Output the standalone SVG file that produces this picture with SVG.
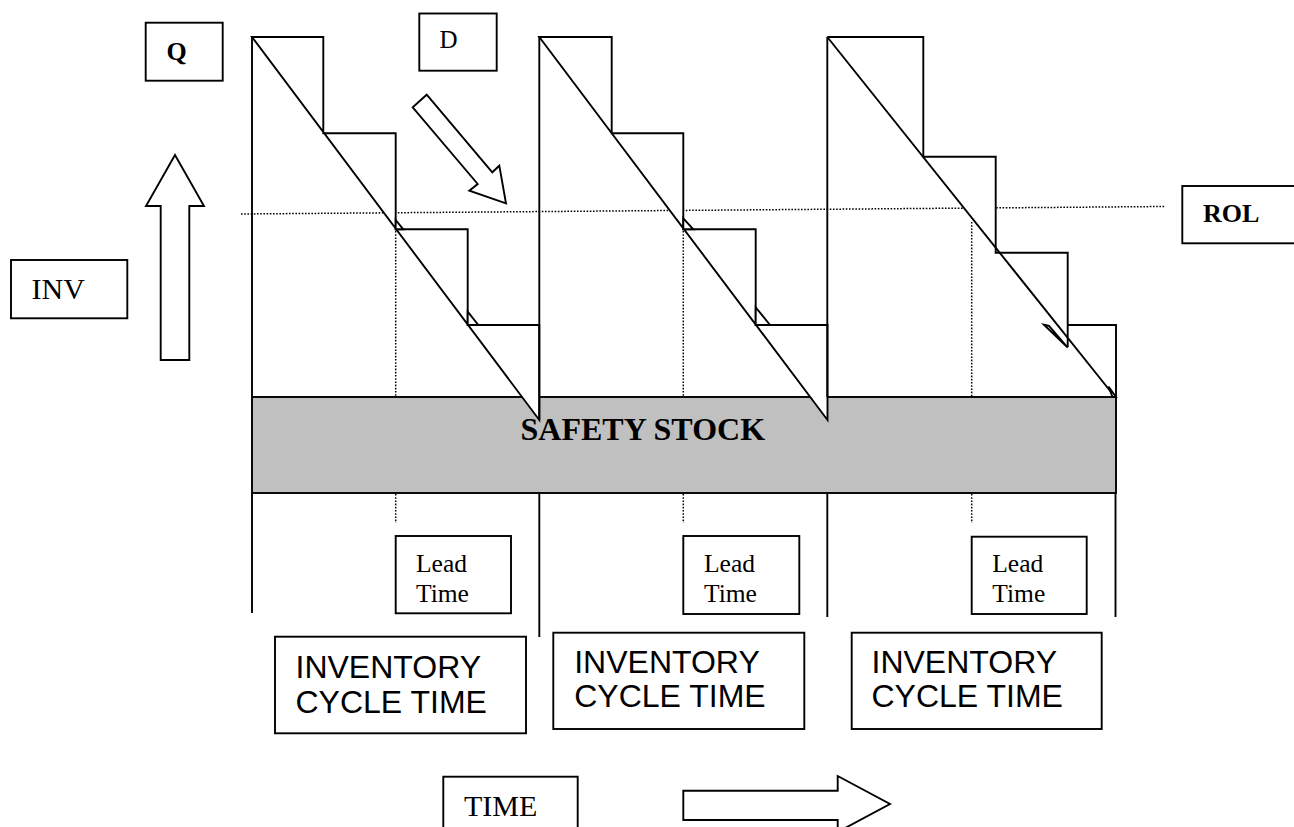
<svg xmlns="http://www.w3.org/2000/svg" width="1294" height="827" viewBox="0 0 1294 827">
<style>
.ln{stroke:#000;stroke-width:1.9;fill:none}
.wf{fill:#fff;stroke:#000;stroke-width:1.9;stroke-linejoin:miter}
.wn{fill:#fff;stroke:none}
.dot{stroke:#000;stroke-width:1.5;stroke-dasharray:1.6 1.6;fill:none}
.box{fill:#fff;stroke:#000;stroke-width:1.9}
.serif{font-family:"Liberation Serif","Times New Roman",serif;fill:#000}
.sans{font-family:"Liberation Sans",Arial,sans-serif;fill:#000}
</style>
<rect width="1294" height="827" fill="#fff"/>

<g id="safety-stock">
<rect x="252" y="397" width="864" height="96" fill="#c0c0c0" stroke="#000" stroke-width="1.9"/>
</g>

<g id="rol-line">
<line class="dot" x1="241" y1="214" x2="1165" y2="206.5"/>
</g>

<g id="cycle1">
<polygon class="wf" points="252,37 323.3,37 323.3,133.3 395.7,133.3 395.7,229.3 467.7,229.3 467.7,325 539.3,325 539.3,420"/>
<line class="ln" x1="252" y1="37" x2="252" y2="397"/>
<polygon class="wf" points="395.7,220 403.3,229.3 395.7,229.3" stroke-width="1.5"/>
<polygon class="wf" points="467.7,311.7 478.3,325 467.7,325" stroke-width="1.5"/>
<line class="dot" x1="395.7" y1="231" x2="395.7" y2="396"/>
<line class="dot" x1="395.7" y1="494" x2="395.7" y2="523"/>
<line class="ln" x1="252" y1="493" x2="252" y2="613"/>
</g>

<g id="cycle2">
<polygon class="wf" points="539.3,37 611.7,37 611.7,133.3 683.3,133.3 683.3,229.3 755.7,229.3 755.7,325 827.5,325 827.5,420"/>
<line class="ln" x1="539.3" y1="37" x2="539.3" y2="420"/>
<polygon class="wf" points="683.3,218.3 693.3,229.3 683.3,229.3" stroke-width="1.5"/>
<polygon class="wf" points="755.7,307.3 770,325 755.7,325" stroke-width="1.5"/>
<line class="dot" x1="683.3" y1="231" x2="683.3" y2="396"/>
<line class="dot" x1="683.3" y1="494" x2="683.3" y2="523"/>
<line class="ln" x1="539.3" y1="493" x2="539.3" y2="637"/>
</g>

<g id="cycle3">
<polygon class="wn" points="827.3,37 923.3,37 923.3,156.7 995.7,156.7 995.7,252.7 1067.7,252.7 1067.7,325 1116,325 1116,397 1115,397"/>
<polyline class="ln" points="827.3,37 923.3,37 923.3,156.7 995.7,156.7 995.7,252.7 1067.7,252.7 1067.7,347"/>
<polyline class="ln" points="1067.7,325 1116,325 1116,397"/>
<line class="ln" x1="827.3" y1="37" x2="1115" y2="397"/>
<line class="ln" x1="827.3" y1="37" x2="827.3" y2="397"/>
<polygon class="wf" points="1044,324.8 1049,325.8 1067.7,347.5" stroke-width="1.2"/>
<polygon class="wf" points="1108.5,386.5 1116,397 1112.5,397" stroke-width="1.2"/>
<line class="dot" x1="971.7" y1="222" x2="971.7" y2="396"/>
<line class="dot" x1="971.7" y1="494" x2="971.7" y2="523"/>
<line class="ln" x1="827.3" y1="493" x2="827.3" y2="617"/>
<line class="ln" x1="1115.5" y1="493" x2="1115.5" y2="617"/>
</g>

<g id="safety-label">
<text class="serif" x="520.5" y="439.5" font-size="32" font-weight="bold">SAFETY STOCK</text>
</g>

<g id="q-box">
<rect class="box" x="145.7" y="22.7" width="77" height="58"/>
<text class="serif" x="166.5" y="59.5" font-size="26" font-weight="bold">Q</text>
</g>

<g id="d-box">
<rect class="box" x="419.3" y="13.5" width="77.4" height="57.2"/>
<text class="serif" x="439.5" y="48.3" font-size="25">D</text>
</g>

<g id="rol-box">
<rect class="box" x="1182.3" y="186" width="130" height="57.3"/>
<text class="serif" x="1203" y="222.2" font-size="26" font-weight="bold">ROL</text>
</g>

<g id="inv-box">
<rect class="box" x="11" y="260" width="116.3" height="58.3"/>
<text class="serif" x="31.5" y="299.3" font-size="30">INV</text>
</g>

<g id="lead1">
<rect class="box" x="395.7" y="536" width="115.3" height="77.3"/>
<text class="serif" x="416" y="571.7" font-size="25.5">Lead</text>
<text class="serif" x="416" y="601.5" font-size="25.5">Time</text>
</g>
<g id="lead2">
<rect class="box" x="683.3" y="536" width="116" height="78"/>
<text class="serif" x="704" y="571.7" font-size="25.5">Lead</text>
<text class="serif" x="704" y="601.5" font-size="25.5">Time</text>
</g>
<g id="lead3">
<rect class="box" x="971.7" y="536.7" width="115" height="77.3"/>
<text class="serif" x="992.3" y="571.7" font-size="25.5">Lead</text>
<text class="serif" x="992.3" y="601.5" font-size="25.5">Time</text>
</g>

<g id="cycle-time1">
<rect class="box" x="275" y="636.7" width="251" height="96.6"/>
<text class="sans" x="295.5" y="678.3" font-size="32">INVENTORY</text>
<text class="sans" x="295.5" y="712.7" font-size="32">CYCLE TIME</text>
</g>
<g id="cycle-time2">
<rect class="box" x="553.3" y="632.7" width="251" height="96.3"/>
<text class="sans" x="574.2" y="672.7" font-size="32">INVENTORY</text>
<text class="sans" x="574.2" y="706.7" font-size="32">CYCLE TIME</text>
</g>
<g id="cycle-time3">
<rect class="box" x="851.7" y="632.7" width="250" height="96.3"/>
<text class="sans" x="871.5" y="672.7" font-size="32">INVENTORY</text>
<text class="sans" x="871.5" y="706.7" font-size="32">CYCLE TIME</text>
</g>

<g id="time-box">
<rect class="box" x="443.3" y="776.7" width="134.4" height="70"/>
<text class="serif" x="464" y="815.7" font-size="30">TIME</text>
</g>

<g id="connectors">
<polygon class="wf" points="175,155 204,206 189.3,206 189.3,360 160.7,360 160.7,206 146,206"/>
<polygon class="wf" points="426.7,94.7 492.3,172.3 499.3,165.7 506,203.3 469.3,190.7 477.7,184 412.7,107.3"/>
<polygon class="wf" points="683.3,790.7 837.7,790.7 837.7,776 890,804 837.7,832 837.7,820 683.3,820"/>
</g>
</svg>
